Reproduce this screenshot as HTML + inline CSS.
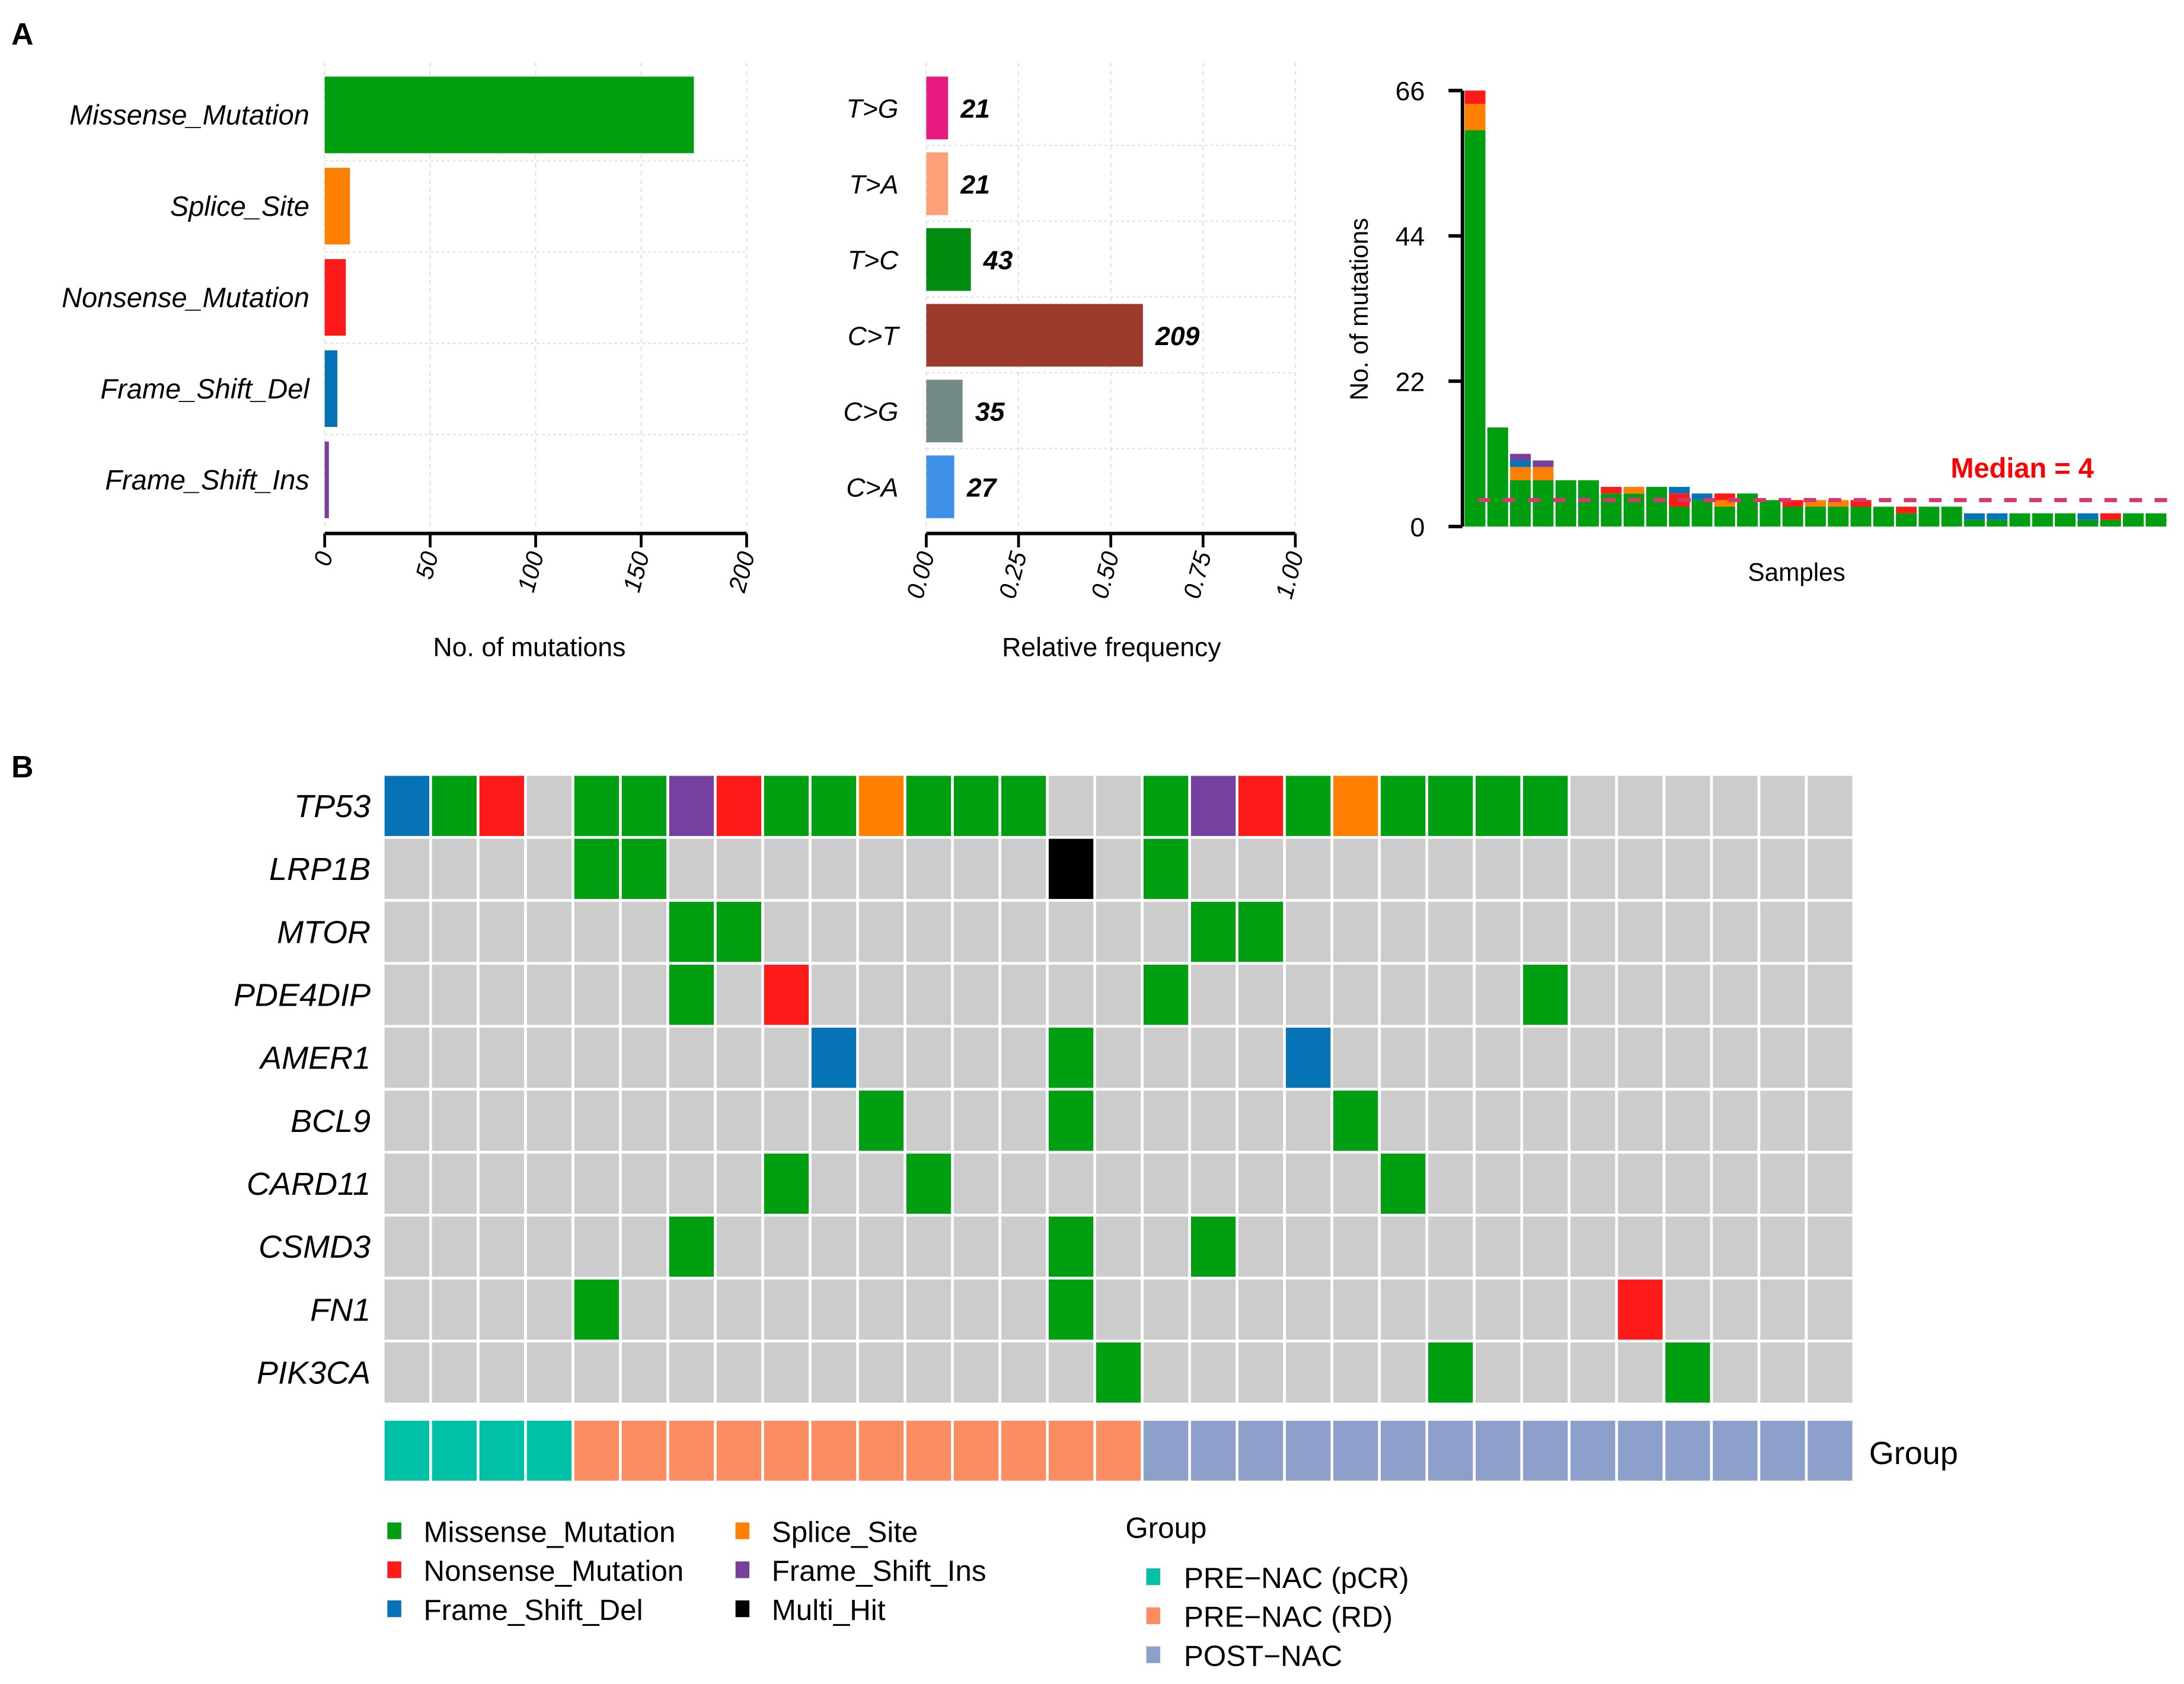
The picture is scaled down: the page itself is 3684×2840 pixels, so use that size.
<!DOCTYPE html>
<html><head><meta charset="utf-8">
<style>
html,body{margin:0;padding:0;background:#fff;}
svg{display:block;font-family:"Liberation Sans",Arial,sans-serif;}
</style></head>
<body>
<svg id="fig" xmlns="http://www.w3.org/2000/svg" width="3684" height="2840" viewBox="0 0 1568 1209">
<rect width="1568" height="1209" fill="#fff"/>
<text x="8" y="32" font-size="22" font-weight="bold">A</text>
<text x="8" y="558" font-size="22" font-weight="bold">B</text>
<g id="varclass"></g>
<g id="snv"></g>
<g id="tmb"></g>
<g id="onco"></g>
<g id="legend"></g>
</svg>
<script>
// ---- data ----
const varCats = ["Missense_Mutation","Splice_Site","Nonsense_Mutation","Frame_Shift_Del","Frame_Shift_Ins"];
const varCounts = [175,12,10,6,2];
const varTicks = [0,50,100,150,200];
const snvCats = ["T>G","T>A","T>C","C>T","C>G","C>A"];
const snvCounts = [21,21,43,209,35,27];
const freqTicks = ["0.00","0.25","0.50","0.75","1.00"];
const sMissense = [60,15,7,7,7,7,5,5,6,3,4,3,5,4,3,3,3,3,3,2,3,3,1,1,2,2,2,1,1,2,2];
const sSplice   = [4,0,2,2,0,0,0,1,0,0,0,1,0,0,0,1,1,0,0,0,0,0,0,0,0,0,0,0,0,0,0];
const sNonsense = [2,0,0,0,0,0,1,0,0,2,0,1,0,0,1,0,0,1,0,1,0,0,0,0,0,0,0,0,1,0,0];
const sFSDel    = [0,0,1,0,0,0,0,0,0,1,1,0,0,0,0,0,0,0,0,0,0,0,1,1,0,0,0,1,0,0,0];
const sFSIns    = [0,0,1,1,0,0,0,0,0,0,0,0,0,0,0,0,0,0,0,0,0,0,0,0,0,0,0,0,0,0,0];
const tmbTicks = [0,22,44,66];
const medianVal = 4;
const genes = ["TP53","LRP1B","MTOR","PDE4DIP","AMER1","BCL9","CARD11","CSMD3","FN1","PIK3CA"];
const oncoRows = [
 "DMN0MMINMMSMMM00MINMSMMMM000000",
 "0000MM00000000X0M00000000000000",
 "000000MM000000000MM000000000000",
 "000000M0N0000000M0000000M000000",
 "000000000D0000M0000D00000000000",
 "0000000000M000M00000M0000000000",
 "00000000M00M000000000M000000000",
 "000000M0000000M00M0000000000000",
 "0000M000000000M00000000000N0000",
 "000000000000000M000000M0000M000"];
const groupCodes = "AAAABBBBBBBBBBBBCCCCCCCCCCCCCCC";
const groupNames = ["PRE\u2212NAC (pCR)","PRE\u2212NAC (RD)","POST\u2212NAC"];

const COL = {M:"#009F11",N:"#FF1A1A",D:"#0573B6",I:"#7640A0",S:"#FF8000",X:"#000000","0":"#CCCCCC"};
const varColors = ["#009F11","#FF8000","#FF1A1A","#0573B6","#7640A0"];
const snvColors = ["#E8197E","#FFA07A","#008C0E","#9C3A2C","#738A87","#3F90E8"];
const grpColors = {A:"#00C1A5",B:"#FC8D62",C:"#8DA0CB"};
const NS="http://www.w3.org/2000/svg";
function mk(parent,tag,attrs,text){const e=document.createElementNS(NS,tag);for(const k in attrs)e.setAttribute(k,attrs[k]);if(text!==undefined)e.textContent=text;parent.appendChild(e);return e;}

(function(){
 const g=document.getElementById('varclass');
 const x0=233,x1=536,xs=v=>x0+(v-0)/200*(x1-x0);
 const top=55,pitch=65.5,bh=55;
 varTicks.forEach(t=>{const l=mk(g,'line',{x1:xs(t),x2:xs(t),y1:45,y2:378,stroke:'#ddd','stroke-dasharray':'3,3','stroke-width':0.8});
  
  });
 varCats.forEach((c,i)=>{const y=top+i*pitch;
  if(i>0){const gl=mk(g,'line',{x1:x0,x2:x1,y1:y-5,y2:y-5,stroke:'#ddd','stroke-dasharray':'2,2','stroke-width':0.8});
   
   }
  const r=mk(g,'rect',{x:x0,y:y,width:xs(varCounts[i])-x0,height:bh,fill:varColors[i]});
  
  
  const t=mk(g,'text',{x:222,y:y+bh/2+7,'text-anchor':'end','font-size':20,'font-style':'italic'},c);
  
  });
 const ax=mk(g,'line',{x1:x0,x2:x1,y1:383,y2:383,stroke:'#000','stroke-width':2.5});
 
 
 varTicks.forEach(t=>{const tk=mk(g,'line',{x1:xs(t),x2:xs(t),y1:383,y2:393,stroke:'#000','stroke-width':2});
  
  
  const lb=mk(g,'text',{transform:`translate(${xs(t)+6},398) rotate(-75)`,'text-anchor':'end','font-size':17.5,'font-style':'italic'},String(t));
  
  });
 const tt=mk(g,'text',{x:380,y:471,'text-anchor':'middle','font-size':19},'No. of mutations');
 
 
})();

(function(){
 const g=document.getElementById('snv');
 const x0=665,x1=930,xs=v=>x0+v*(x1-x0);
 const total=snvCounts.reduce((a,b)=>a+b,0);
 const top=55,pitch=54.4,bh=45;
 freqTicks.forEach(t=>{const l=mk(g,'line',{x1:xs(+t),x2:xs(+t),y1:45,y2:378,stroke:'#ddd','stroke-dasharray':'3,3','stroke-width':0.8});
  
  });
 snvCats.forEach((c,i)=>{const y=top+i*pitch;
  if(i>0){const gl=mk(g,'line',{x1:x0,x2:x1,y1:y-5,y2:y-5,stroke:'#ddd','stroke-dasharray':'2,2','stroke-width':0.8});
   
   }
  const w=xs(snvCounts[i]/total)-x0;
  const r=mk(g,'rect',{x:x0,y:y,width:w,height:bh,fill:snvColors[i]});
  
  
  const t=mk(g,'text',{x:645,y:y+bh/2+7,'text-anchor':'end','font-size':19,'font-style':'italic'},c);
  
  
  const v=mk(g,'text',{x:x0+w+9,y:y+bh/2+7,'font-size':19,'font-style':'italic','font-weight':'bold'},String(snvCounts[i]));
  
  });
 const ax=mk(g,'line',{x1:x0,x2:x1,y1:383,y2:383,stroke:'#000','stroke-width':2.5});
 
 
 freqTicks.forEach(t=>{const tk=mk(g,'line',{x1:xs(+t),x2:xs(+t),y1:383,y2:393,stroke:'#000','stroke-width':2});
  
  
  const lb=mk(g,'text',{transform:`translate(${xs(+t)+6},398) rotate(-75)`,'text-anchor':'end','font-size':17.5,'font-style':'italic'},t);
  
  });
 const tt=mk(g,'text',{x:798,y:471,'text-anchor':'middle','font-size':19},'Relative frequency');
 
 
})();

(function(){
 const g=document.getElementById('tmb');
 const y0=378,y1=65,ys=v=>y0-v/66*(y0-y1);
 const xL=1051,bw=16.3;
 const series=[[sMissense,COL.M,'missense'],[sSplice,COL.S,'splice'],[sNonsense,COL.N,'nonsense'],[sFSDel,COL.D,'fs-del'],[sFSIns,COL.I,'fs-ins']];
 sMissense.forEach((_,i)=>{let acc=0;
  series.forEach(([arr,col,nm])=>{const v=arr[i];if(!v)return;
   const r=mk(g,'rect',{x:xL+i*bw+0.6,y:ys(acc+v),width:bw-1.4,height:ys(acc)-ys(acc+v),fill:col});
   
   
   acc+=v;});});
 const ax=mk(g,'line',{x1:1050,x2:1050,y1:ys(66),y2:ys(0),stroke:'#000','stroke-width':2.5});
 
 
 tmbTicks.forEach(t=>{const tk=mk(g,'line',{x1:1040,x2:1050,y1:ys(t),y2:ys(t),stroke:'#000','stroke-width':2.5});
  
  
  const lb=mk(g,'text',{x:1023,y:ys(t)+7,'text-anchor':'end','font-size':19},String(t));
  
  });
 const ml=mk(g,'line',{x1:1061,x2:1556,y1:ys(medianVal),y2:ys(medianVal),stroke:'#D9376B','stroke-width':3,'stroke-dasharray':'9,9'});
 
 
 const mt=mk(g,'text',{x:1452,y:343,'text-anchor':'middle','font-size':20,'font-weight':'bold',fill:'#FF0000'},'Median = '+medianVal);
 
 
 const yt=mk(g,'text',{transform:'translate(982,222) rotate(-90)','text-anchor':'middle','font-size':18},'No. of mutations');
 
 
 const xt=mk(g,'text',{x:1290,y:417,'text-anchor':'middle','font-size':18},'Samples');
 
 
})();

(function(){
 const g=document.getElementById('onco');
 const x0=275,cw=(1331-275)/31,y0=556,rh=(1008-556)/10;
 oncoRows.forEach((row,r)=>{
  const gl=mk(g,'text',{x:266,y:y0+r*rh+rh/2+8,'text-anchor':'end','font-size':23,'font-style':'italic'},genes[r]);
  
  
  for(let c=0;c<row.length;c++){
   const cell=mk(g,'rect',{x:x0+c*cw+1,y:y0+r*rh+1,width:cw-2,height:rh-2,fill:COL[row[c]]});
   
   
  }});
 for(let c=0;c<groupCodes.length;c++){
  const gc=mk(g,'rect',{x:x0+c*cw+1,y:1020,width:cw-2,height:43,fill:grpColors[groupCodes[c]]});
  
  
 }
 const gt=mk(g,'text',{x:1342,y:1051,'font-size':23},'Group');
 
 
})();

(function(){
 const g=document.getElementById('legend');
 const items=[["Missense_Mutation",COL.M,283,1099],["Nonsense_Mutation",COL.N,283,1127],["Frame_Shift_Del",COL.D,283,1155],
  ["Splice_Site",COL.S,533,1099],["Frame_Shift_Ins",COL.I,533,1127],["Multi_Hit",COL.X,533,1155]];
 items.forEach(([n,c,x,y])=>{
  const s=mk(g,'rect',{x:x-5,y:y-6,width:10,height:12,fill:c});
  
  
  const t=mk(g,'text',{x:x+21,y:y+8,'font-size':21},n);
  
  });
 const gh=mk(g,'text',{x:808,y:1104,'font-size':21},'Group');
 
 
 ['A','B','C'].forEach((k,i)=>{const y=1132+i*28;
  const s=mk(g,'rect',{x:823,y:y-6,width:10,height:12,fill:grpColors[k]});
  
  
  const t=mk(g,'text',{x:850,y:y+8,'font-size':21},groupNames[i]);
  
  });
})();
</script>
</body></html>
